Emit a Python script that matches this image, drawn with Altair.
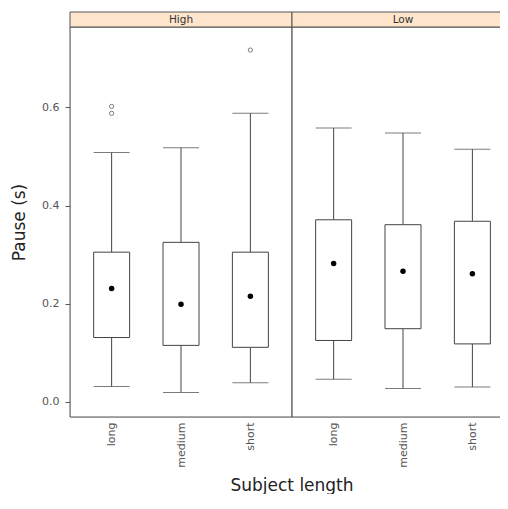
import altair as alt
import pandas as pd

# ---- data ----
panels = ["High", "High", "High", "Low", "Low", "Low"]
lengths = ["long", "medium", "short", "long", "medium", "short"]
lower = [0.031, 0.019, 0.039, 0.046, 0.027, 0.030]
q1 = [0.131, 0.115, 0.111, 0.125, 0.149, 0.118]
median = [0.231, 0.199, 0.215, 0.282, 0.266, 0.261]
q3 = [0.305, 0.325, 0.305, 0.371, 0.361, 0.368]
upper = [0.508, 0.518, 0.588, 0.558, 0.548, 0.515]

out_panels = ["High", "High", "High"]
out_lengths = ["long", "long", "short"]
out_values = [0.588, 0.602, 0.717]

y_ticks = [0.0, 0.2, 0.4, 0.6]
categories = ["long", "medium", "short"]

box_df = pd.DataFrame({
    "kind": "box", "level": panels, "length": lengths,
    "lower": lower, "q1": q1, "median": median, "q3": q3, "upper": upper,
})
out_df = pd.DataFrame({
    "kind": "out", "level": out_panels, "length": out_lengths, "value": out_values,
})
df = pd.concat([box_df, out_df], ignore_index=True)

W, H = 222, 390
LINE = "#444444"
BORDER = "#555555"
FONT = "DejaVu Sans"

xenc = alt.X("length:N", scale=alt.Scale(type="point", padding=0.6, domain=categories),
             axis=alt.Axis(title=None, labelAngle=-90, ticks=False, domain=False,
                           labelPadding=5, labelFontSize=11, labelColor="#555555",
                           labelFont=FONT))
yscale = alt.Scale(domain=[-0.031, 0.764], nice=False, zero=False)
yaxis = alt.Axis(title="Pause (s)", values=y_ticks, format=".1f", grid=False, domain=False,
                 tickSize=5, tickColor="#555555", labelPadding=6, labelFontSize=11,
                 labelColor="#555555", labelFont=FONT, titleFont=FONT, titleFontSize=17,
                 titleFontWeight="normal", titleColor="#222222", titlePadding=13)

box = alt.Chart().transform_filter(alt.datum.kind == "box")

whisk_lo = box.mark_rule(color=LINE, strokeWidth=1).encode(
    x=xenc, y=alt.Y("lower:Q", scale=yscale, axis=yaxis), y2="q1:Q")
whisk_hi = box.mark_rule(color=LINE, strokeWidth=1).encode(
    x=xenc, y=alt.Y("q3:Q", scale=yscale, axis=yaxis), y2="upper:Q")
cap_lo = box.mark_tick(color=LINE, size=36, thickness=1).encode(
    x=xenc, y=alt.Y("lower:Q", scale=yscale, axis=yaxis))
cap_hi = box.mark_tick(color=LINE, size=36, thickness=1).encode(
    x=xenc, y=alt.Y("upper:Q", scale=yscale, axis=yaxis))
rect = box.mark_bar(size=36, fill="white", stroke=LINE, strokeWidth=1).encode(
    x=xenc, y=alt.Y("q1:Q", scale=yscale, axis=yaxis), y2="q3:Q")
med = box.mark_circle(size=30, color="black", opacity=1).encode(
    x=xenc, y=alt.Y("median:Q", scale=yscale, axis=yaxis))
outl = alt.Chart().transform_filter(alt.datum.kind == "out").mark_point(
    shape="circle", size=18, filled=False, stroke=LINE, strokeWidth=1).encode(
    x=xenc, y=alt.Y("value:Q", scale=yscale, axis=yaxis))

strip_base = alt.Chart().transform_filter(
    (alt.datum.kind == "box") & (alt.datum.length == "long"))
frame = strip_base.mark_rect(fill="transparent", stroke=BORDER, strokeWidth=1).encode(
    x=alt.value(0), x2=alt.value(W), y=alt.value(0), y2=alt.value(H))
strip = strip_base.mark_rect(fill="#ffe5cc", stroke=BORDER, strokeWidth=1).encode(
    x=alt.value(0), x2=alt.value(W), y=alt.value(-15), y2=alt.value(0))
strip_text = strip_base.mark_text(font=FONT, fontSize=10.5, color="#333333",
                                  baseline="middle").encode(
    x=alt.value(W / 2), y=alt.value(-7.5), text="level:N")

layer = alt.layer(frame, whisk_lo, whisk_hi, cap_lo, cap_hi, rect, med, outl,
                  strip, strip_text).properties(width=W, height=H)

chart = layer.facet(
    column=alt.Column("level:N", title="Subject length",
                      header=alt.Header(labels=False, titleOrient="bottom", titleFont=FONT,
                                        titleFontSize=17, titleFontWeight="normal",
                                        titleColor="#222222", titlePadding=0)),
    data=df,
    spacing=0,
    bounds="flush",
).properties(
    # the right edge of the second panel is cut off, as in the reference
    padding={"left": 2, "top": 3, "right": -15, "bottom": 0}
).configure_view(strokeWidth=0).configure(background="white")

chart.save("out.html", embed_options={"renderer": "svg", "actions": False})
